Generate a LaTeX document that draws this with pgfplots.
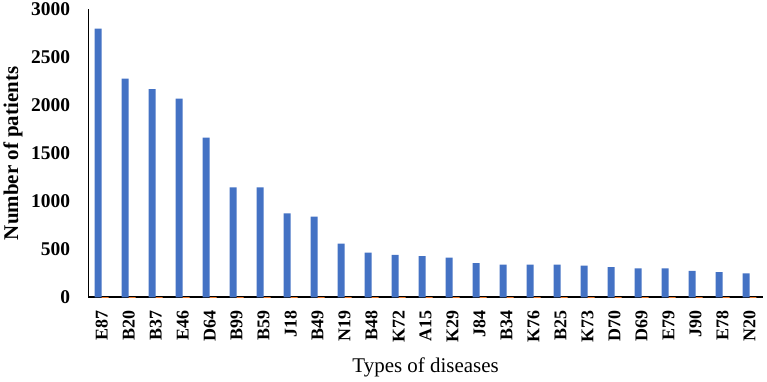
\documentclass[border=0pt]{standalone}
\usepackage{fontspec}
\setmainfont{Liberation Serif}
\usepackage{pgfplots}
\pgfplotsset{compat=1.18}
\definecolor{barblue}{RGB}{68,114,196}
\definecolor{barorange}{RGB}{237,125,49}

% Patients per disease code (ICD-10), sorted by count
\pgfplotstableread{
x  code n    other
0.5  E87 2800 0
1.5  B20 2280 0
2.5  B37 2170 0
3.5  E46 2070 0
4.5  D64 1665 0
5.5  B99 1145 0
6.5  B59 1145 0
7.5  J18 875  0
8.5  B49 840  0
9.5  N19 560  0
10.5 B48 467  0
11.5 K72 443  0
12.5 A15 430  0
13.5 K29 415  0
14.5 J84 356  0
15.5 B34 342  0
16.5 K76 342  0
17.5 B25 342  0
18.5 K73 330  0
19.5 D70 315  0
20.5 D69 303  0
21.5 E79 303  0
22.5 J90 275  0
23.5 E78 263  0
24.5 N20 250  0
}\diseases

\begin{document}
\begin{tikzpicture}
\begin{axis}[
  scale only axis,
  width=677pt, height=288.8pt,
  xmin=0, xmax=25,
  ymin=0, ymax=3000,
  axis x line*=bottom,
  axis y line*=left,
  x axis line style={line width=1.8pt},
  y axis line style={line width=1.2pt},
  ybar=0pt, bar width=7pt,
  xtick={0.5,1.5,...,24.5},
  xticklabels={E87,B20,B37,E46,D64,B99,B59,J18,B49,N19,B48,K72,A15,K29,J84,B34,K76,B25,K73,D70,D69,E79,J90,E78,N20},
  ytick={0,500,...,3000},
  major tick length=0pt,
  /pgf/number format/assume math mode=true,
  /pgf/number format/1000 sep={},
  tick label style={font=\fontsize{18}{20}\selectfont\bfseries},
  yticklabel style={anchor=east, inner sep=0pt, font=\fontsize{19.5}{21}\selectfont\bfseries},
  xticklabel style={rotate=90, anchor=east, inner sep=0pt},
  xticklabel shift={13pt},
  yticklabel shift={18pt},
  xlabel={Types of diseases},
  ylabel={\bfseries Number of patients},
  label style={font=\fontsize{21}{23}\selectfont},
  xlabel style={at={(axis description cs:0.5,0)}, anchor=center, yshift=-70pt},
  ylabel style={at={(axis description cs:0,0.5)}, anchor=center, yshift=75.5pt},
  clip=false,
]
\addplot[fill=barblue, draw=none] table[x=x, y=n] {\diseases};
\addplot[fill=barorange, draw=barorange, line width=0.6pt] table[x=x, y=other] {\diseases};
\end{axis}
\path[use as bounding box] (-86pt,-84.7pt) rectangle (681pt,298.3pt);
\end{tikzpicture}
\end{document}
